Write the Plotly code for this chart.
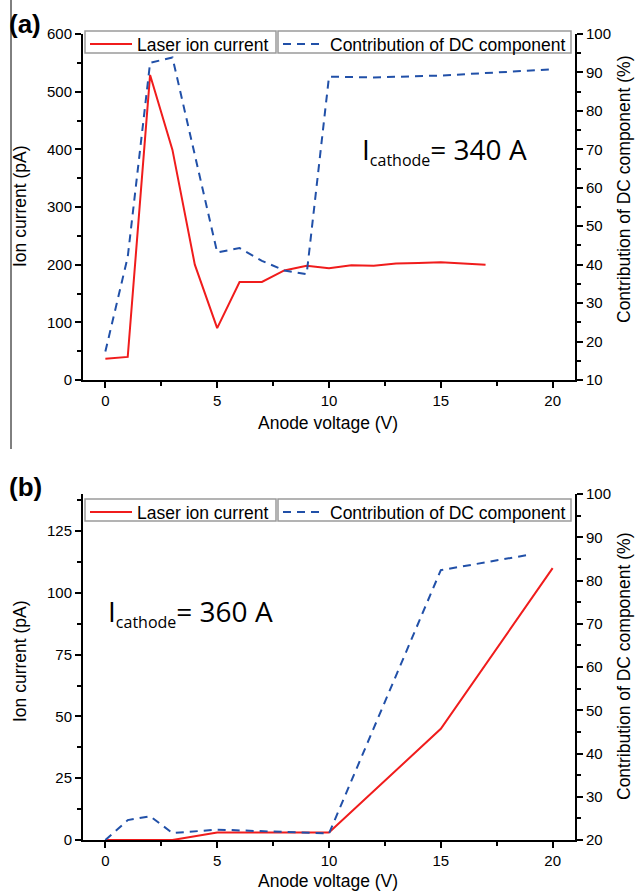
import plotly.graph_objects as go

W, H = 636, 892

# ---------------- data ----------------
# Panel (a): I_cathode = 340 A
a_red_x = [0, 1, 2, 3, 4, 5, 6, 7, 8, 9, 10, 11, 12, 13, 14, 15, 16, 17]
a_red_y = [37, 40, 529, 399, 200, 90, 170, 170, 190, 198, 194, 199, 198, 202, 203, 204, 202, 200]
a_blue_x = [0, 1, 2, 3, 5, 6, 7, 8, 9, 10, 12, 15, 20]
a_blue_y = [17.4, 42, 92.5, 93.9, 43.2, 44.3, 41, 38.5, 37.5, 88.9, 88.7, 89.2, 90.8]

# Panel (b): I_cathode = 360 A
b_red_x = [0, 1, 2, 3, 5, 10, 15, 20]
b_red_y = [0, 0, 0, 0, 3, 3, 45, 110]
b_blue_x = [0, 1, 2, 3, 5, 10, 15, 19]
b_blue_y = [20, 24.6, 25.5, 21.6, 22.4, 21.5, 82.4, 86]

series_names = ["Laser ion current", "Contribution of DC component"]
x_title = "Anode voltage (V)"
y_left_title = "Ion current (pA)"
y_right_title = "Contribution of DC component (%)"
panel_labels = ["(a)", "(b)"]
cathode_main = ["= 340 A", "= 360 A"]

RED = "#f01c1c"
BLUE = "#2150a8"
FONT = "Arial, Liberation Sans, sans-serif"


def px_x(p):
    return p / W


def px_y(p):
    return (H - p) / H


fig = go.Figure()

fig.add_trace(go.Scatter(x=a_red_x, y=a_red_y, mode="lines", name=series_names[0],
                         line=dict(color=RED, width=2), xaxis="x", yaxis="y", legend="legend"))
fig.add_trace(go.Scatter(x=a_blue_x, y=a_blue_y, mode="lines", name=series_names[1],
                         line=dict(color=BLUE, width=2, dash="8px,6px"), xaxis="x", yaxis="y2",
                         legend="legend2"))
fig.add_trace(go.Scatter(x=b_red_x, y=b_red_y, mode="lines", name=series_names[0],
                         line=dict(color=RED, width=2), xaxis="x2", yaxis="y3", legend="legend3"))
fig.add_trace(go.Scatter(x=b_blue_x, y=b_blue_y, mode="lines", name=series_names[1],
                         line=dict(color=BLUE, width=2, dash="8px,6px"), xaxis="x2", yaxis="y4",
                         legend="legend4"))

xdom = [px_x(83), px_x(575)]
ydom_a = [px_y(380), px_y(34)]
ydom_b = [px_y(840), px_y(494)]

tickfont = dict(family=FONT, size=15, color="black")


def axis_common(**kw):
    d = dict(showline=True, linecolor="black", linewidth=2, ticks="outside", ticklen=6,
             tickwidth=2, tickcolor="black", tickfont=tickfont, showgrid=False, zeroline=False,
             fixedrange=True, automargin=False)
    d.update(kw)
    return d


def minor(dtick):
    return dict(ticks="outside", ticklen=4, tickwidth=2, tickcolor="black", dtick=dtick,
                showgrid=False)


xaxis_kw = dict(range=[-1, 21], tickmode="linear", tick0=0, dtick=5, minor=minor(2.5))

fig.update_layout(
    template="none",
    width=W, height=H,
    margin=dict(l=0, r=0, t=0, b=0, autoexpand=False),
    paper_bgcolor="white", plot_bgcolor="white",
    xaxis=axis_common(domain=xdom, anchor="y", **xaxis_kw),
    yaxis=axis_common(domain=ydom_a, anchor="x", range=[0, 600], tickmode="linear", tick0=0,
                      dtick=100, minor=minor(50)),
    yaxis2=axis_common(overlaying="y", side="right", anchor="x", range=[10, 100],
                       tickmode="linear", tick0=10, dtick=10, minor=minor(5)),
    xaxis2=axis_common(domain=xdom, anchor="y3", **xaxis_kw),
    yaxis3=axis_common(domain=ydom_b, anchor="x2", range=[0, 140], tickmode="linear", tick0=0,
                       dtick=25, minor=minor(12.5)),
    yaxis4=axis_common(overlaying="y3", side="right", anchor="x2", range=[20, 100],
                       tickmode="linear", tick0=20, dtick=10, minor=minor(5)),
    showlegend=True,
)

# legend entries (native legends; frames drawn as shapes below)
leg_common = dict(bgcolor="rgba(0,0,0,0)", borderwidth=0,
                  font=dict(family=FONT, size=17.5, color="black"),
                  xanchor="left", yanchor="top", itemwidth=42, tracegroupgap=0)
fig.update_layout(
    legend=dict(x=px_x(85), y=px_y(26), **leg_common),
    legend2=dict(x=px_x(278), y=px_y(26), **leg_common),
    legend3=dict(x=px_x(85), y=px_y(494), **leg_common),
    legend4=dict(x=px_x(278), y=px_y(494), **leg_common),
)

shapes = []
for top, bot in [(31, 53), (499, 521)]:
    for x0, x1 in [(85, 276), (278, 571)]:
        shapes.append(dict(type="rect", xref="paper", yref="paper",
                           x0=px_x(x0), x1=px_x(x1), y0=px_y(bot), y1=px_y(top),
                           line=dict(color="#9a9a9a", width=1.5), fillcolor="rgba(0,0,0,0)",
                           layer="above"))
# thin left border line next to panel (a)
shapes.append(dict(type="line", xref="paper", yref="paper", x0=px_x(11), x1=px_x(11),
                   y0=1, y1=px_y(449), line=dict(color="black", width=1)))

annots = []
title_font = dict(family=FONT, size=17.5, color="black")
# (left title center y, right title center y, x-title center y)
for yl, yr, xc in [(206, 190, 423), (661, 667, 881)]:
    annots.append(dict(text=y_left_title, x=px_x(20), y=px_y(yl), xref="paper", yref="paper",
                       textangle=-90, showarrow=False, font=title_font,
                       xanchor="center", yanchor="middle"))
    annots.append(dict(text=y_right_title, x=px_x(624), y=px_y(yr), xref="paper", yref="paper",
                       textangle=-90, showarrow=False, font=title_font,
                       xanchor="center", yanchor="middle"))
    annots.append(dict(text=x_title, x=px_x(328), y=px_y(xc), xref="paper", yref="paper",
                       showarrow=False, font=title_font, xanchor="center", yanchor="middle"))

# panel labels
for lab, yc in zip(panel_labels, [24, 487]):
    annots.append(dict(text="<b>" + lab + "</b>", x=px_x(25), y=px_y(yc), xref="paper",
                       yref="paper", showarrow=False,
                       font=dict(family=FONT, size=26, color="black"),
                       xanchor="center", yanchor="middle"))

# cathode current labels
for main, (xl, yc) in zip(cathode_main, [(360, 150), (106, 612)]):
    txt = "I<sub><span style='font-size:16px'>cathode</span></sub>" + main
    annots.append(dict(text=txt, x=px_x(xl), y=px_y(yc), xref="paper", yref="paper",
                       showarrow=False, font=dict(family="Open Sans", size=28, color="black"),
                       xanchor="left", yanchor="middle"))

fig.update_layout(annotations=annots, shapes=shapes)

fig.write_html("out.html")
